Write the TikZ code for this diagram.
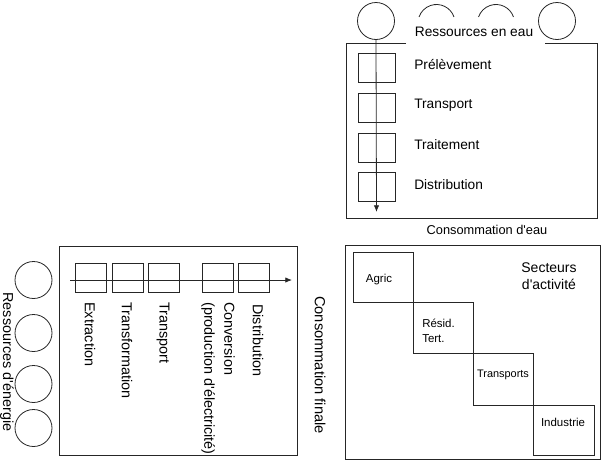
\documentclass[tikz,border=0pt]{standalone}
\usepackage{fontspec}
\setmainfont{Liberation Sans}
\usetikzlibrary{arrows.meta,calc}
\newcommand{\apos}{\textquotesingle}
\begin{document}
\begin{tikzpicture}[x=0.75pt,y=-0.75pt,
  ln/.style={draw=black!85,line width=0.6pt},
  res/.style={ln,circle,minimum size=27.75pt,inner sep=0pt},
  wsq/.style={ln,minimum width=27.75pt,minimum height=21.75pt,inner sep=0pt},
  esq/.style={ln,minimum width=23.25pt,minimum height=21.75pt,inner sep=0pt},
  lbl/.style={inner sep=0pt,font=\fontsize{10.3pt}{12pt}\selectfont},
  vlbl/.style={inner sep=0pt,rotate=-90,anchor=west,align=left,font=\fontsize{10.8pt}{15pt}\selectfont},
  slbl/.style={inner sep=0pt,font=\fontsize{8.6pt}{11pt}\selectfont,align=left},
  flow/.style={ln,-{Latex[length=5pt,width=4pt]}}
]
\useasboundingbox (0,0) rectangle (606,461);

% ---------------- Water panel ----------------
\node[res] (w1) at (376,21) {};
\node[res] (w4) at (557,21) {};
\coordinate (a1) at (436.5,23);
\coordinate (a2) at (496,23);
\draw[ln] ($(a1)+(19:13.875pt)$) arc[start angle=19,end angle=161,radius=13.875pt];
\draw[ln] ($(a2)+(19:13.875pt)$) arc[start angle=19,end angle=161,radius=13.875pt];
\node[lbl,anchor=center] (wres) at (474,32) {Ressources en eau};
\coordinate (wt1) at (406,43);
\coordinate (wt2) at (346,43);
\coordinate (wb1) at (346,218);
\coordinate (wb2) at (597,218);
\coordinate (wt3) at (597,43);
\coordinate (wt4) at (545,43);
\draw[ln] (wt1) -- (wt2) -- (wb1) -- (wb2) -- (wt3) -- (wt4);

\node[wsq] (s1) at (376.5,67.5) {};
\node[wsq] (s2) at (376.5,107.5) {};
\node[wsq] (s3) at (376.5,147.5) {};
\node[wsq] (s4) at (376.5,187) {};
\coordinate (wend) at (376.5,212);
\draw[flow] (w1.south) -- (wend);

\node[lbl,anchor=west] (l1) at (414,65) {Prélèvement};
\node[lbl,anchor=west] (l2) at (414,105) {Transport};
\node[lbl,anchor=west] (l3) at (414,145) {Traitement};
\node[lbl,anchor=west] (l4) at (414,185) {Distribution};
\node[lbl,font=\fontsize{9.6pt}{12pt}\selectfont] (wcons) at (487,230) {Consommation d\apos eau};

% ---------------- Energy panel ----------------
\node[ln,minimum width=178.5pt,minimum height=156.75pt,inner sep=0pt] (ebox) at (178.5,350.5) {};
\node[res] (e1) at (33.5,280) {};
\node[res] (e2) at (33.5,333) {};
\node[res] (e3) at (33.5,384) {};
\node[res] (e4) at (33.5,428) {};
\node[inner sep=0pt,rotate=-90,font=\fontsize{10.8pt}{12pt}\selectfont] (eres) at (7,362) {Ressources d\apos énergie};

\node[esq] (q1) at (90.5,277.5) {};
\node[esq] (q2) at (127.5,277.5) {};
\node[esq] (q3) at (163.5,277.5) {};
\node[esq] (q4) at (217.5,277.5) {};
\node[esq] (q5) at (253.5,277.5) {};
\coordinate (estart) at (70,280);
\coordinate (eend) at (292,280);
\draw[flow] (estart) -- (eend);

\node[vlbl] (m1) at (90,302) {Extraction};
\node[vlbl] (m2) at (127,302) {Transformation};
\node[vlbl] (m3) at (163,302) {Transport};
\node[vlbl] (m4) at (218,302) {Conversion\\(production d\apos électricité)};
\node[vlbl] (m5) at (258,304) {Distribution};
\node[inner sep=0pt,rotate=-90,font=\fontsize{11pt}{12pt}\selectfont] (efin) at (320,365) {Consommation finale};

% ---------------- Sectors panel ----------------
\node[ln,minimum width=191.25pt,minimum height=160.5pt,inner sep=0pt] (sbox) at (472.5,352) {};
\node[ln,minimum width=45pt,minimum height=37.5pt,inner sep=0pt] (b1) at (383,277) {};
\node[ln,minimum width=45pt,minimum height=38.25pt,inner sep=0pt] (b2) at (443,327.5) {};
\node[ln,minimum width=45pt,minimum height=39pt,inner sep=0pt] (b3) at (503,379) {};
\node[ln,minimum width=45.75pt,minimum height=37.5pt,inner sep=0pt] (b4) at (563.5,430) {};
\node[slbl] (t1) at (379,280) {Agric};
\node[slbl,anchor=west] (t2) at (422,331) {Résid.\\Tert.};
\node[slbl,font=\fontsize{8.2pt}{10pt}\selectfont] (t3) at (503,375) {Transports};
\node[slbl] (t4) at (563,422) {Industrie};
\node[inner sep=0pt,align=center,font=\fontsize{10.5pt}{13pt}\selectfont] (sect) at (549,276.5) {Secteurs\\d\apos activité};
\end{tikzpicture}
\end{document}
